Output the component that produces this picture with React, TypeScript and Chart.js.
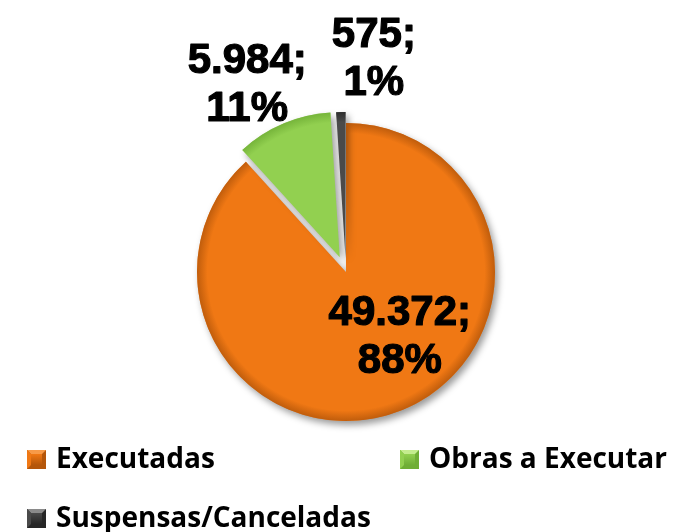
import { useEffect, useRef } from 'react';
import { Chart, registerables } from 'chart.js';

Chart.register(...registerables);

// ---- data ----
const categories = ['Executadas', 'Obras a Executar', 'Suspensas/Canceladas'];
const values = [49372, 5984, 575];

// ---- styling ----
const sliceColors = ['#F07814', '#92D050', '#4A4A4A'];
const rimColors = ['#B4560A', '#6FAE35', '#262626'];
const lightColors = ['#F79A48', '#C4EC8E', '#8A8A8A'];
const explode = [0, 16, 14];
const shrink = [0, 4, 3];
// label placement: [radial factor, dx, dy] relative to each slice
const labelPlace = [
  [0.5, 27, -8],
  [1.0, -36, -42],
  [1.0, 33, -56],
];
const legendPlace = [
  [27, 450],
  [400, 450],
  [27, 509],
];

const fmtThousands = (v: number) => String(v).replace(/\B(?=(\d{3})+(?!\d))/g, '.');

const explodePlugin = {
  id: 'explodeSlices',
  afterDatasetUpdate(chart: any, args: any) {
    const meta = chart.getDatasetMeta(args.index);
    meta.data.forEach((el: any, i: number) => {
      const off = explode[i] || 0;
      if (!off) return;
      const mid = (el.startAngle + el.endAngle) / 2;
      el.x += Math.cos(mid) * off;
      el.y += Math.sin(mid) * off;
      el.outerRadius -= shrink[i] || 0;
    });
  },
};

const shadowPlugin = {
  id: 'pieShadow',
  beforeDatasetsDraw(chart: any) {
    const ctx = chart.ctx;
    ctx.save();
    ctx.shadowColor = 'rgba(0,0,0,0.4)';
    ctx.shadowBlur = 7;
    ctx.shadowOffsetX = 3;
    ctx.shadowOffsetY = 4;
  },
  afterDatasetsDraw(chart: any) {
    const ctx = chart.ctx;
    ctx.restore();
    const meta = chart.getDatasetMeta(0);
    meta.data.forEach((el: any, i: number) => {
      const { x, y, startAngle, endAngle, outerRadius: r } = el;
      ctx.save();
      ctx.beginPath();
      ctx.moveTo(x, y);
      ctx.arc(x, y, r, startAngle, endAngle);
      ctx.closePath();
      ctx.clip();
      // rim darkening
      const g = ctx.createRadialGradient(x, y, r * 0.93, x, y, r);
      g.addColorStop(0, rimColors[i] + '00');
      g.addColorStop(1, rimColors[i] + 'CC');
      ctx.fillStyle = g;
      ctx.fillRect(x - r, y - r, 2 * r, 2 * r);
      // top-left highlight
      const h = ctx.createLinearGradient(x - r, y - r, x, y);
      h.addColorStop(0, lightColors[i] + '99');
      h.addColorStop(0.3, lightColors[i] + '00');
      ctx.fillStyle = h;
      ctx.fillRect(x - r, y - r, 2 * r, 2 * r);
      ctx.restore();
    });
  },
};

const labelPlugin = {
  id: 'sliceLabels',
  afterDraw(chart: any) {
    const ctx = chart.ctx;
    const meta = chart.getDatasetMeta(0);
    const data = chart.data.datasets[0].data as number[];
    const total = data.reduce((a, b) => a + b, 0);
    ctx.save();
    ctx.fillStyle = '#000000';
    ctx.strokeStyle = '#000000';
    ctx.lineWidth = 1.2;
    ctx.lineJoin = 'round';
    ctx.textAlign = 'center';
    ctx.textBaseline = 'alphabetic';
    ctx.font = 'bold 42px "Liberation Sans", Arial, sans-serif';
    const capH = 30;
    const gap = 48;
    meta.data.forEach((el: any, i: number) => {
      const [f, dx, dy] = labelPlace[i];
      const mid = (el.startAngle + el.endAngle) / 2;
      const cx = el.x + Math.cos(mid) * el.outerRadius * f + dx;
      const cy = el.y + Math.sin(mid) * el.outerRadius * f + dy;
      const pct = Math.round((data[i] / total) * 100);
      const l1 = fmtThousands(data[i]) + ';';
      const l2 = pct + '%';
      const y1 = cy - gap / 2 + capH / 2;
      const y2 = cy + gap / 2 + capH / 2;
      ctx.fillText(l1, cx, y1);
      ctx.strokeText(l1, cx, y1);
      ctx.fillText(l2, cx, y2);
      ctx.strokeText(l2, cx, y2);
    });
    ctx.restore();
  },
};

function drawMarker(ctx: CanvasRenderingContext2D, x: number, y: number, s: number, i: number) {
  const b = 4;
  ctx.fillStyle = rimColors[i];
  ctx.fillRect(x, y, s, s);
  ctx.fillStyle = lightColors[i];
  ctx.beginPath();
  ctx.moveTo(x, y); ctx.lineTo(x + s, y); ctx.lineTo(x + s - b, y + b); ctx.lineTo(x + b, y + b); ctx.closePath(); ctx.fill();
  ctx.fillStyle = sliceColors[i];
  ctx.beginPath();
  ctx.moveTo(x, y); ctx.lineTo(x + b, y + b); ctx.lineTo(x + b, y + s - b); ctx.lineTo(x, y + s); ctx.closePath(); ctx.fill();
  const g = ctx.createLinearGradient(x, y + b, x, y + s - b);
  g.addColorStop(0, sliceColors[i]);
  g.addColorStop(1, rimColors[i]);
  ctx.fillStyle = g;
  ctx.fillRect(x + b, y + b, s - 2 * b, s - 2 * b);
}

const legendPlugin = {
  id: 'gridLegend',
  afterDraw(chart: any) {
    const ctx = chart.ctx;
    const labels = chart.data.labels as string[];
    ctx.save();
    ctx.font = 'bold 28px "Open Sans", sans-serif';
    ctx.textAlign = 'left';
    ctx.textBaseline = 'alphabetic';
    labels.forEach((lab, i) => {
      const [x, y] = legendPlace[i];
      drawMarker(ctx, x, y, 19, i);
      ctx.fillStyle = '#000000';
      ctx.fillText(lab, x + 29, y + 18);
    });
    ctx.restore();
  },
};

export default function App() {
  const ref = useRef<HTMLCanvasElement | null>(null);
  useEffect(() => {
    if (!ref.current) return;
    const chart = new Chart(ref.current, {
      type: 'pie',
      data: {
        labels: categories,
        datasets: [
          {
            data: values,
            backgroundColor: sliceColors,
            borderWidth: 0,
          },
        ],
      },
      options: {
        animation: false,
        responsive: true,
        maintainAspectRatio: false,
        radius: 149,
        layout: { padding: { left: 18, right: 0, top: 40, bottom: 28 } },
        plugins: {
          legend: { display: false },
          tooltip: { enabled: false },
        },
      } as any,
      plugins: [explodePlugin, shadowPlugin, labelPlugin, legendPlugin],
    });
    return () => chart.destroy();
  }, []);
  return (
    <div style={{ position: 'absolute', left: 0, top: 0, width: 674, height: 532, background: '#ffffff' }}>
      <canvas ref={ref} />
    </div>
  );
}
